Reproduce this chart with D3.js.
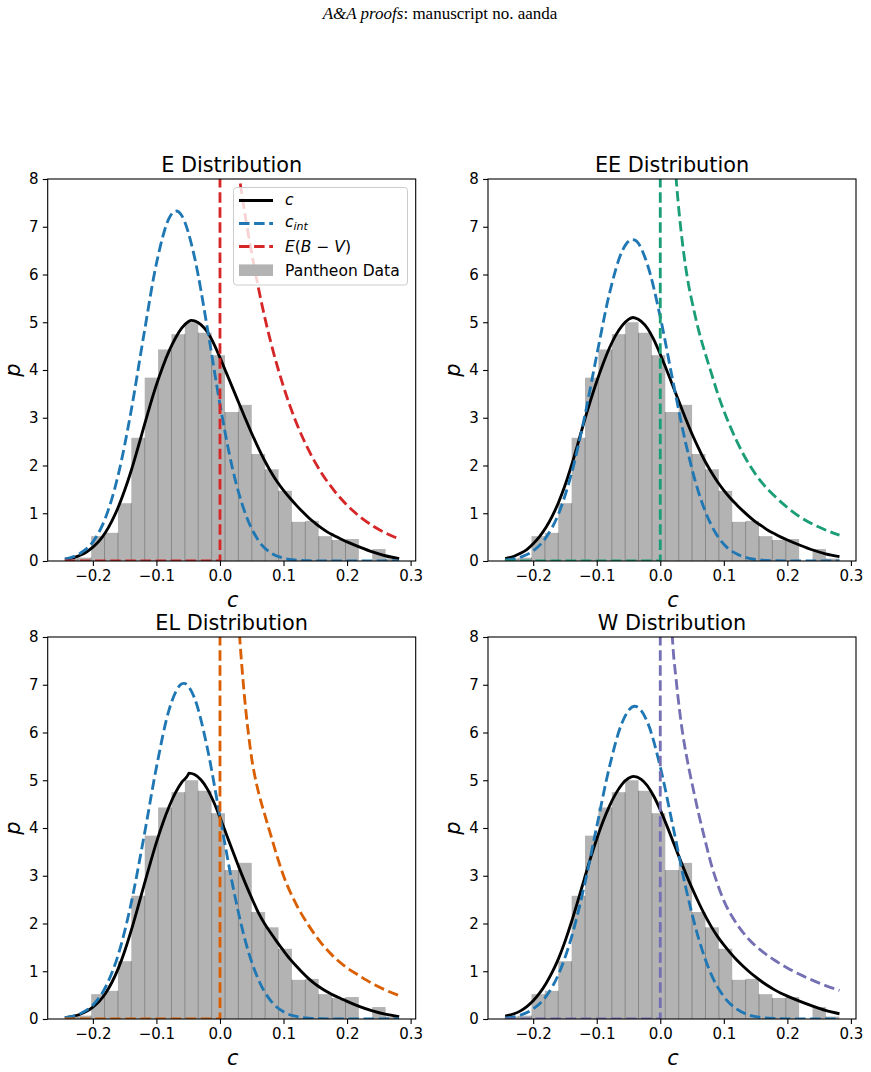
<!DOCTYPE html>
<html>
<head>
<meta charset="utf-8">
<script src="https://cdn.jsdelivr.net/npm/d3@7"></script>
<style>
  body { margin: 0; background: #ffffff; }
  svg { display: block; }
</style>
</head>
<body>
<svg id="chart" width="871" height="1072"></svg>
<script>
// ---------------- DATA ----------------
const xTicks = [-0.2, -0.1, 0.0, 0.1, 0.2, 0.3];
const yTicks = [0, 1, 2, 3, 4, 5, 6, 7, 8];
const panelTitles = ["E Distribution", "EE Distribution", "EL Distribution", "W Distribution"];
const legendLabels = ["c", "c_int", "E(B−V)", "Pantheon Data"];

// Pantheon colour histogram (density), 25 bins
const histStart = -0.2448;
const histBinWidth = 0.02106;
const histDensity = [0.05, 0.07, 0.52, 0.59, 1.21, 2.58, 3.84, 4.43, 4.75, 5.00, 4.78, 4.31, 3.12,
                     3.27, 2.24, 1.92, 1.47, 0.82, 0.84, 0.52, 0.44, 0.46, 0.00, 0.25, 0.05];

// observed colour c (black)
const cE = [[-0.244,0.04],[-0.23,0.07],[-0.22,0.12],[-0.21,0.19],[-0.20,0.29],[-0.19,0.42],[-0.18,0.60],[-0.17,0.84],
  [-0.16,1.13],[-0.15,1.48],[-0.14,1.88],[-0.13,2.33],[-0.12,2.80],[-0.11,3.26],[-0.10,3.69],[-0.09,4.07],[-0.08,4.40],
  [-0.07,4.67],[-0.06,4.88],[-0.05,5.01],[-0.045,5.04],[-0.04,5.03],[-0.03,4.95],[-0.02,4.80],[-0.01,4.56],[0.00,4.26],
  [0.01,3.94],[0.02,3.62],[0.03,3.30],[0.04,2.98],[0.05,2.67],[0.06,2.38],[0.07,2.11],[0.08,1.87],[0.09,1.66],[0.10,1.48],
  [0.11,1.32],[0.12,1.17],[0.13,1.03],[0.14,0.90],[0.15,0.79],[0.16,0.69],[0.17,0.60],[0.18,0.53],[0.19,0.46],[0.20,0.40],
  [0.22,0.29],[0.24,0.19],[0.26,0.11],[0.282,0.05]];
const cEE = [[-0.244,0.05],[-0.23,0.10],[-0.22,0.16],[-0.21,0.24],[-0.20,0.36],[-0.19,0.51],[-0.18,0.70],[-0.17,0.94],
  [-0.16,1.23],[-0.15,1.58],[-0.14,1.99],[-0.13,2.44],[-0.12,2.91],[-0.11,3.35],[-0.10,3.76],[-0.09,4.13],[-0.08,4.46],
  [-0.07,4.73],[-0.06,4.93],[-0.05,5.06],[-0.043,5.10],[-0.04,5.09],[-0.03,5.02],[-0.02,4.87],[-0.01,4.63],[0.00,4.33],
  [0.01,4.00],[0.02,3.66],[0.03,3.32],[0.04,2.98],[0.05,2.66],[0.06,2.37],[0.07,2.10],[0.08,1.87],[0.09,1.66],[0.10,1.48],
  [0.11,1.32],[0.12,1.18],[0.13,1.05],[0.14,0.93],[0.15,0.82],[0.16,0.73],[0.17,0.64],[0.18,0.57],[0.19,0.50],[0.20,0.44],
  [0.22,0.33],[0.24,0.23],[0.26,0.15],[0.282,0.09]];
const cEL = [[-0.244,0.03],[-0.23,0.06],[-0.22,0.10],[-0.21,0.16],[-0.20,0.25],[-0.19,0.37],[-0.18,0.54],[-0.17,0.77],
  [-0.16,1.06],[-0.15,1.42],[-0.14,1.84],[-0.13,2.30],[-0.12,2.78],[-0.11,3.25],[-0.10,3.70],[-0.09,4.10],[-0.08,4.45],
  [-0.07,4.74],[-0.06,4.96],[-0.05,5.12],[-0.049,5.15],[-0.04,5.12],[-0.03,5.01],[-0.02,4.82],[-0.01,4.55],[0.00,4.22],
  [0.01,3.87],[0.02,3.52],[0.03,3.17],[0.04,2.84],[0.05,2.53],[0.06,2.24],[0.07,2.00],[0.08,1.80],[0.09,1.61],[0.10,1.43],
  [0.11,1.26],[0.12,1.11],[0.13,0.97],[0.14,0.84],[0.15,0.73],[0.16,0.64],[0.17,0.56],[0.18,0.49],[0.19,0.43],[0.20,0.37],
  [0.22,0.26],[0.24,0.17],[0.26,0.10],[0.282,0.05]];
const cW = [[-0.244,0.06],[-0.23,0.11],[-0.22,0.17],[-0.21,0.26],[-0.20,0.38],[-0.19,0.54],[-0.18,0.74],[-0.17,0.98],
  [-0.16,1.27],[-0.15,1.62],[-0.14,2.02],[-0.13,2.46],[-0.12,2.91],[-0.11,3.36],[-0.10,3.77],[-0.09,4.14],[-0.08,4.46],
  [-0.07,4.72],[-0.06,4.92],[-0.05,5.04],[-0.042,5.08],[-0.03,5.02],[-0.02,4.88],[-0.01,4.66],[0.00,4.38],
  [0.01,4.06],[0.02,3.72],[0.03,3.38],[0.04,3.05],[0.05,2.74],[0.06,2.45],[0.07,2.18],[0.08,1.94],[0.09,1.73],[0.10,1.55],
  [0.11,1.39],[0.12,1.24],[0.13,1.11],[0.14,0.99],[0.15,0.88],[0.16,0.78],[0.17,0.69],[0.18,0.61],[0.19,0.54],[0.20,0.48],
  [0.22,0.37],[0.24,0.27],[0.26,0.18],[0.282,0.11]];

// intrinsic colour c_int (blue dashed)
const cintE = [[-0.244,0.04],[-0.22,0.16],[-0.20,0.40],[-0.18,0.91],[-0.16,1.81],[-0.14,3.13],[-0.12,4.72],[-0.10,6.23],
  [-0.08,7.18],[-0.069,7.33],[-0.06,7.23],[-0.04,6.36],[-0.02,4.89],[0.00,3.28],[0.02,1.92],[0.04,0.99],[0.06,0.44],
  [0.08,0.17],[0.10,0.06],[0.12,0.02],[0.14,0.005],[0.16,0.001],[0.20,0.0],[0.282,0.0]];
const cintEE = [[-0.244,0.02],[-0.22,0.08],[-0.20,0.21],[-0.18,0.49],[-0.16,0.99],[-0.14,1.82],[-0.12,2.96],[-0.10,4.31],
  [-0.08,5.60],[-0.06,6.49],[-0.044,6.73],[-0.04,6.72],[-0.02,6.20],[0.00,5.11],[0.02,3.76],[0.04,2.47],[0.06,1.45],
  [0.08,0.76],[0.10,0.35],[0.12,0.15],[0.14,0.055],[0.16,0.018],[0.18,0.005],[0.20,0.001],[0.282,0.0]];
const cintEL = [[-0.244,0.03],[-0.22,0.11],[-0.20,0.29],[-0.18,0.67],[-0.16,1.35],[-0.14,2.41],[-0.12,3.79],[-0.10,5.27],
  [-0.08,6.48],[-0.06,7.02],[-0.057,7.03],[-0.04,6.72],[-0.02,5.68],[0.00,4.24],[0.02,2.80],[0.04,1.63],[0.06,0.84],
  [0.08,0.38],[0.10,0.15],[0.12,0.054],[0.14,0.017],[0.16,0.005],[0.18,0.001],[0.282,0.0]];
const cintW = [[-0.244,0.02],[-0.22,0.08],[-0.20,0.21],[-0.18,0.47],[-0.16,0.94],[-0.14,1.70],[-0.12,2.76],[-0.10,4.03],
  [-0.08,5.28],[-0.06,6.21],[-0.04,6.55],[-0.02,6.21],[0.00,5.28],[0.02,4.03],[0.04,2.76],[0.06,1.70],[0.08,0.94],
  [0.10,0.47],[0.12,0.21],[0.14,0.08],[0.16,0.03],[0.18,0.01],[0.20,0.003],[0.22,0.001],[0.282,0.0]];

// dust reddening E(B-V) (coloured dashed)
const dustE = [[-0.244,0],[0,0],[0,11.36],[0.01,10.14],[0.02,9.06],[0.03,8.08],[0.04,7.21],[0.05,6.44],[0.06,5.75],
  [0.07,5.13],[0.08,4.58],[0.10,3.65],[0.12,2.90],[0.14,2.31],[0.16,1.84],[0.18,1.47],[0.20,1.17],[0.22,0.93],
  [0.24,0.74],[0.26,0.59],[0.282,0.46]];
const dustEE = [[-0.244,0],[0,0],[0,40],[0.005,17],[0.01,12.5],[0.015,10.2],[0.02,8.9],[0.025,8.0],[0.03,7.25],
  [0.035,6.65],[0.04,6.15],[0.045,5.75],[0.05,5.43],[0.06,4.85],[0.07,4.38],[0.08,3.95],[0.09,3.52],[0.10,3.15],
  [0.12,2.52],[0.14,2.02],[0.16,1.64],[0.18,1.36],[0.20,1.12],[0.22,0.92],[0.24,0.77],[0.26,0.65],[0.282,0.54]];
const dustEL = [[-0.244,0],[0,0],[0,40],[0.01,16],[0.02,11],[0.025,9.5],[0.031,8.0],[0.035,7.3],[0.04,6.55],
  [0.045,5.95],[0.05,5.45],[0.055,5.08],[0.06,4.78],[0.07,4.30],[0.08,3.85],[0.09,3.40],[0.10,3.00],[0.12,2.40],
  [0.14,1.95],[0.16,1.58],[0.18,1.29],[0.20,1.07],[0.22,0.90],[0.24,0.74],[0.26,0.61],[0.282,0.49]];
const dustW = [[-0.244,0],[0,0],[0,40],[0.005,16],[0.01,11.5],[0.015,9.2],[0.019,8.0],[0.025,7.1],[0.03,6.5],
  [0.035,6.0],[0.04,5.6],[0.045,5.25],[0.05,4.93],[0.06,4.32],[0.07,3.77],[0.08,3.25],[0.09,2.83],[0.10,2.48],
  [0.12,2.00],[0.14,1.66],[0.16,1.42],[0.18,1.23],[0.20,1.07],[0.22,0.93],[0.24,0.81],[0.26,0.70],[0.282,0.60]];

// ---------------- LAYOUT / STYLE ----------------
const svg = d3.select("#chart");
svg.append("rect").attr("width", 871).attr("height", 1072).attr("fill", "#fff");

const FONT = "'DejaVu Sans', sans-serif";
const W = 368, H = 382;
const xDomain = [-0.2711, 0.3080];
const panels = [
  { title: panelTitles[0], x0: 47.7, y0: 179, black: cE,  blue: cintE,  dust: dustE,  color: "#d62728", legend: true },
  { title: panelTitles[1], x0: 488,  y0: 179, black: cEE, blue: cintEE, dust: dustEE, color: "#1b9e77" },
  { title: panelTitles[2], x0: 47.7, y0: 637, black: cEL, blue: cintEL, dust: dustEL, color: "#d95f02" },
  { title: panelTitles[3], x0: 488,  y0: 637, black: cW,  blue: cintW,  dust: dustW,  color: "#7570b3" }
];
const LW = 2.85;
const DASH = "10.5 4.6";
const BLUE = "#1f77b4";
const BAR = "#b3b3b3";

// header
svg.append("text")
  .attr("x", 440).attr("y", 19).attr("text-anchor", "middle")
  .attr("font-family", "'Liberation Serif', 'Times New Roman', serif").attr("font-size", 17)
  .call(t => {
    t.append("tspan").attr("font-style", "italic").text("A&A proofs");
    t.append("tspan").text(": manuscript no. aanda");
  });

const defs = svg.append("defs");

panels.forEach((p, i) => {
  const x = d3.scaleLinear().domain(xDomain).range([p.x0, p.x0 + W]);
  const y = d3.scaleLinear().domain([0, 8]).range([p.y0 + H, p.y0]);
  const g = svg.append("g");

  const clipId = "clip" + i;
  defs.append("clipPath").attr("id", clipId)
    .append("rect").attr("x", p.x0).attr("y", p.y0).attr("width", W).attr("height", H);
  const plot = g.append("g").attr("clip-path", `url(#${clipId})`);

  // histogram bars
  const bins = histDensity.map((d, k) => ({ x0: histStart + k * histBinWidth, x1: histStart + (k + 1) * histBinWidth, h: d }));
  plot.selectAll("rect.bar").data(bins).enter().append("rect")
    .attr("x", d => x(d.x0)).attr("width", d => x(d.x1) - x(d.x0))
    .attr("y", d => y(d.h)).attr("height", d => y(0) - y(d.h))
    .attr("fill", BAR);
  // bin separators (overlapping edges)
  const seps = d3.range(1, histDensity.length).map(k => ({ xv: histStart + k * histBinWidth, h: Math.min(histDensity[k - 1], histDensity[k]) }))
    .filter(d => d.h > 0);
  plot.selectAll("line.sep").data(seps).enter().append("line")
    .attr("x1", d => x(d.xv)).attr("x2", d => x(d.xv))
    .attr("y1", y(0)).attr("y2", d => y(d.h))
    .attr("stroke", "#7f7f7f").attr("stroke-width", 0.9);

  const smooth = d3.line().x(d => x(d[0])).y(d => y(d[1])).curve(d3.curveMonotoneX);
  const straight = d3.line().x(d => x(d[0])).y(d => y(d[1]));

  // observed c (black solid)
  plot.append("path").datum(p.black).attr("d", smooth)
    .attr("fill", "none").attr("stroke", "#000").attr("stroke-width", LW).attr("stroke-linejoin", "round");
  // intrinsic (blue dashed)
  plot.append("path").datum(p.blue).attr("d", smooth)
    .attr("fill", "none").attr("stroke", BLUE).attr("stroke-width", LW).attr("stroke-dasharray", DASH);
  // dust: zero part + jump (straight), positive branch (smooth)
  const jump = p.dust.findIndex((d, k) => k > 0 && d[0] === 0 && d[1] > 0);
  plot.append("path").datum(p.dust.slice(0, jump + 1)).attr("d", straight)
    .attr("fill", "none").attr("stroke", p.color).attr("stroke-width", LW).attr("stroke-dasharray", DASH);
  plot.append("path").datum(p.dust.slice(jump)).attr("d", smooth)
    .attr("fill", "none").attr("stroke", p.color).attr("stroke-width", LW).attr("stroke-dasharray", DASH);

  // axes
  const xAxis = d3.axisBottom(x).tickValues(xTicks).tickSize(4.9).tickPadding(4.2)
    .tickFormat(d => d3.format(".1f")(d).replace("-", "−"));
  const yAxis = d3.axisLeft(y).tickValues(yTicks).tickSize(4.9).tickPadding(4.2).tickFormat(d3.format("d"));
  const gx = g.append("g").attr("transform", `translate(0,${p.y0 + H})`).call(xAxis);
  const gy = g.append("g").attr("transform", `translate(${p.x0},0)`).call(yAxis);
  [gx, gy].forEach(a => {
    a.select(".domain").remove();
    a.selectAll(".tick line").attr("stroke", "#000").attr("stroke-width", 1.1);
    a.selectAll(".tick text").attr("font-family", FONT).attr("font-size", 15).attr("fill", "#000");
  });
  // spines
  g.append("rect").attr("x", p.x0).attr("y", p.y0).attr("width", W).attr("height", H)
    .attr("fill", "none").attr("stroke", "#000").attr("stroke-width", 1.1);

  // title
  g.append("text").attr("x", p.x0 + W / 2).attr("y", p.y0 - 7.5).attr("text-anchor", "middle")
    .attr("font-family", FONT).attr("font-size", 20.8).text(p.title);
  // axis labels
  g.append("text").attr("x", p.x0 + W / 2 + 1).attr("y", p.y0 + H + 46).attr("text-anchor", "middle")
    .attr("font-family", FONT).attr("font-style", "italic").attr("font-size", 21).text("c");
  g.append("text").attr("transform", `translate(${p.x0 - 28},${p.y0 + H / 2}) rotate(-90)`)
    .attr("text-anchor", "middle").attr("font-family", FONT).attr("font-style", "italic").attr("font-size", 21).text("p");

  // legend
  if (p.legend) {
    const lg = g.append("g");
    const lx = 233.5, ly = 187.5;
    lg.append("rect").attr("x", lx).attr("y", ly).attr("width", 174).attr("height", 97.5).attr("rx", 3)
      .attr("fill", "#fff").attr("fill-opacity", 0.8).attr("stroke", "#cccccc").attr("stroke-width", 1);
    const rows = [200.5, 223.5, 246.5, 270.2];
    const hx0 = lx + 5.5, hx1 = lx + 39.5, tx = lx + 51.5;
    lg.append("line").attr("x1", hx0).attr("x2", hx1).attr("y1", rows[0]).attr("y2", rows[0])
      .attr("stroke", "#000").attr("stroke-width", LW);
    lg.append("line").attr("x1", hx0).attr("x2", hx1).attr("y1", rows[1]).attr("y2", rows[1])
      .attr("stroke", BLUE).attr("stroke-width", LW).attr("stroke-dasharray", DASH);
    lg.append("line").attr("x1", hx0).attr("x2", hx1).attr("y1", rows[2]).attr("y2", rows[2])
      .attr("stroke", p.color).attr("stroke-width", LW).attr("stroke-dasharray", DASH);
    lg.append("rect").attr("x", hx0).attr("y", rows[3] - 5.8).attr("width", hx1 - hx0).attr("height", 11.6).attr("fill", BAR);

    const tfs = 15.5;
    lg.append("text").attr("x", tx).attr("y", rows[0] + 4).attr("font-family", FONT).attr("font-size", tfs)
      .attr("font-style", "italic").text(legendLabels[0]);
    lg.append("text").attr("x", tx).attr("y", rows[1] + 3).attr("font-family", FONT).attr("font-size", tfs)
      .attr("font-style", "italic")
      .call(t => {
        t.append("tspan").text("c");
        t.append("tspan").attr("font-size", 11).attr("dy", 3.5).text("int");
      });
    lg.append("text").attr("x", tx).attr("y", rows[2] + 5.5).attr("font-family", FONT).attr("font-size", tfs)
      .call(t => {
        t.append("tspan").attr("font-style", "italic").text("E");
        t.append("tspan").text("(");
        t.append("tspan").attr("font-style", "italic").text("B");
        t.append("tspan").text(" − ");
        t.append("tspan").attr("font-style", "italic").text("V");
        t.append("tspan").text(")");
      });
    lg.append("text").attr("x", tx).attr("y", rows[3] + 5.5).attr("font-family", FONT).attr("font-size", tfs)
      .text(legendLabels[3]);
  }
});
</script>
</body>
</html>
